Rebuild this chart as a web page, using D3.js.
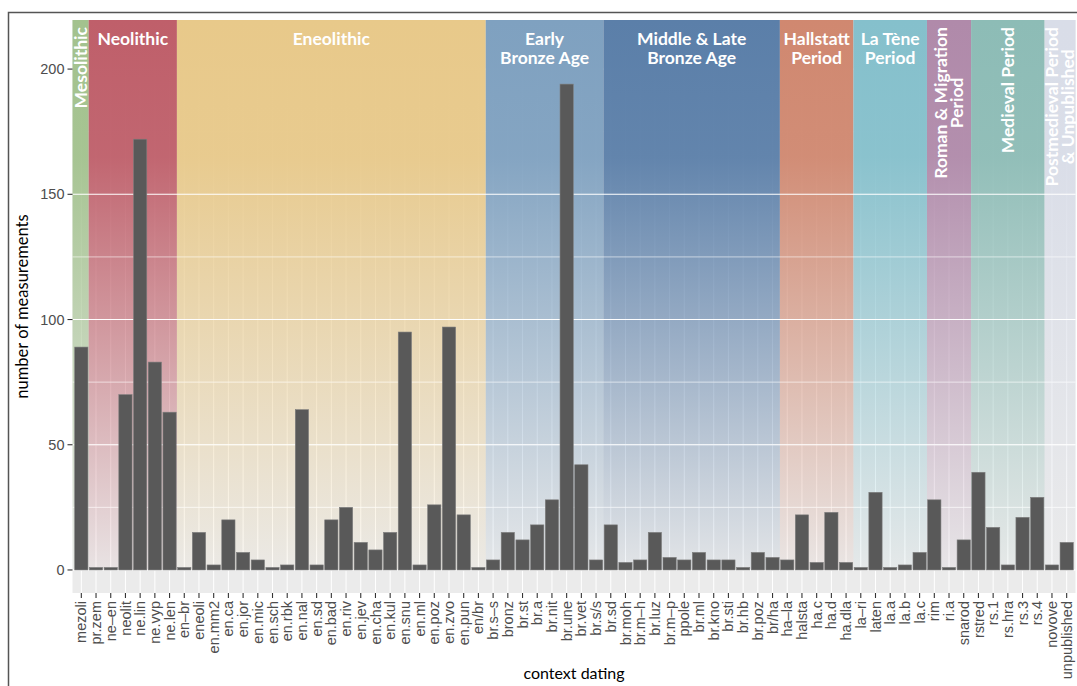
<!DOCTYPE html>
<html>
<head>
<meta charset="utf-8">
<script src="https://cdn.jsdelivr.net/npm/d3@7"></script>
<style>
  body { margin: 0; background: #fff; }
  svg { display: block; }
</style>
</head>
<body>
<div id="chart"></div>
<script>
const categories = [
  'mezoli', 'pr.zem', 'ne–en', 'neolit', 'ne.lin', 'ne.vyp', 'ne.len',
  'en–br', 'eneoli', 'en.mm2', 'en.ca', 'en.jor', 'en.mic', 'en.sch', 'en.rbk',
  'en.nal', 'en.sd', 'en.bad', 'en.riv', 'en.jev', 'en.cha', 'en.kul', 'en.snu',
  'en.ml', 'en.poz', 'en.zvo', 'en.pun', 'en/br',
  'br.s–s', 'bronz', 'br.st', 'br.a', 'br.nit', 'br.une', 'br.vet', 'br.s/s',
  'br.sd', 'br.moh', 'br.m–h', 'br.luz', 'br.m–p', 'ppole', 'br.ml', 'br.kno',
  'br.sti', 'br.hb', 'br.poz', 'br/ha',
  'ha–la', 'halsta', 'ha.c', 'ha.d', 'ha.dla',
  'la–ri', 'laten', 'la.a', 'la.b', 'la.c',
  'rim', 'ri.a', 'snarod',
  'rstred', 'rs.1', 'rs.hra', 'rs.3', 'rs.4',
  'novove', 'unpublished'
];

const counts = [
  89, 1, 1, 70, 172, 83, 63,
  1, 15, 2, 20, 7, 4, 1, 2,
  64, 2, 20, 25, 11, 8, 15, 95,
  2, 26, 97, 22, 1,
  4, 15, 12, 18, 28, 194, 42, 4,
  18, 3, 4, 15, 5, 4, 7, 4,
  4, 1, 7, 5,
  4, 22, 3, 23, 3,
  1, 31, 1, 2, 7,
  28, 1, 12,
  39, 17, 2, 21, 29,
  2, 11
];

const periodLabels = [
  'Mesolithic', 'Neolithic', 'Eneolithic', 'Early\nBronze Age',
  'Middle & Late\nBronze Age', 'Hallstatt\nPeriod', 'La Tène\nPeriod',
  'Roman & Migration\nPeriod', 'Medieval Period', 'Postmedieval Period\n& Unpublished'
];
const periodFirst = ['mezoli', 'pr.zem', 'en–br', 'br.s–s', 'br.sd', 'ha–la', 'la–ri', 'rim', 'rstred', 'novove'];
const periodLast = ['mezoli', 'ne.len', 'en/br', 'br.s/s', 'br/ha', 'ha.dla', 'la.c', 'snarod', 'rs.4', 'unpublished'];
const periodColors = ['#a3c28e', '#bf5f6a', '#e8c98a', '#7fa1c0', '#5b7fa9', '#d08870', '#85c0cc', '#b08aaa', '#8dbcb6', '#d9dde8'];
const periodVertical = [true, false, false, false, false, false, false, true, true, true];

const yMajor = [0, 50, 100, 150, 200];
const yMinor = [25, 75, 125, 175];

const W = 1077, H = 686;
const pLeft = 72.5, pRight = 1075.5, pTop = 20, pBottom = 593;

const svg = d3.select('#chart').append('svg')
  .attr('width', W)
  .attr('height', H);

const x = d3.scalePoint()
  .domain(categories)
  .range([pLeft, pRight])
  .padding(0.6);
const step = x.step();
const bw = step * 0.9;

const y = d3.scaleLinear()
  .domain([-9.2, 219.6])
  .range([pBottom, pTop]);

// outer frame
svg.append('rect')
  .attr('x', 8.5).attr('y', 12.5)
  .attr('width', W + 20).attr('height', H + 20)
  .style('fill', 'none')
  .style('stroke', '#555')
  .style('stroke-width', 1.5);

// panel background
svg.append('rect')
  .attr('x', pLeft).attr('y', pTop)
  .attr('width', pRight - pLeft).attr('height', pBottom - pTop)
  .style('fill', '#ebebeb');

const grid = svg.append('g');
grid.selectAll('.vgrid')
  .data(categories)
  .enter().append('line')
  .attr('x1', d => x(d)).attr('x2', d => x(d))
  .attr('y1', pTop).attr('y2', pBottom)
  .style('stroke', '#fff').style('stroke-width', 1);
grid.selectAll('.minor')
  .data(yMinor)
  .enter().append('line')
  .attr('x1', pLeft).attr('x2', pRight)
  .attr('y1', d => y(d)).attr('y2', d => y(d))
  .style('stroke', '#fff').style('stroke-width', 0.55);
grid.selectAll('.major')
  .data(yMajor)
  .enter().append('line')
  .attr('x1', pLeft).attr('x2', pRight)
  .attr('y1', d => y(d)).attr('y2', d => y(d))
  .style('stroke', '#fff').style('stroke-width', 1.1);

// period backgrounds, fading towards zero
const defs = svg.append('defs');
const periods = periodLabels.map((label, i) => ({
  label,
  color: periodColors[i],
  vertical: periodVertical[i],
  x0: i === 0 ? pLeft : x(periodFirst[i]) - step / 2,
  x1: i === periodLabels.length - 1 ? pRight : x(periodLast[i]) + step / 2,
}));

const fadeTop = (y(165) - pTop) / (y(0) - pTop);
const fadeMid = (y(80) - pTop) / (y(0) - pTop);
periods.forEach((p, i) => {
  const g = defs.append('linearGradient')
    .attr('id', 'fade' + i)
    .attr('gradientUnits', 'userSpaceOnUse')
    .attr('x1', 0).attr('x2', 0)
    .attr('y1', pTop).attr('y2', y(0));
  g.append('stop').attr('offset', 0).attr('stop-color', p.color).attr('stop-opacity', 1);
  g.append('stop').attr('offset', fadeTop).attr('stop-color', p.color).attr('stop-opacity', 0.95);
  g.append('stop').attr('offset', fadeMid).attr('stop-color', p.color).attr('stop-opacity', 0.5);
  g.append('stop').attr('offset', 1).attr('stop-color', p.color).attr('stop-opacity', 0.06);
});

svg.append('g').selectAll('rect')
  .data(periods)
  .enter().append('rect')
  .attr('x', d => d.x0)
  .attr('y', pTop)
  .attr('width', d => d.x1 - d.x0)
  .attr('height', y(0) - pTop)
  .style('fill', (d, i) => `url(#fade${i})`);

// horizontal lines show through the faded part
const over = svg.append('g');
over.selectAll('.minor')
  .data(yMinor.filter(v => v <= 150))
  .enter().append('line')
  .attr('x1', pLeft).attr('x2', pRight)
  .attr('y1', d => y(d)).attr('y2', d => y(d))
  .style('stroke', '#fff').style('stroke-width', 0.55);
over.selectAll('.major')
  .data(yMajor.filter(v => v <= 150))
  .enter().append('line')
  .attr('x1', pLeft).attr('x2', pRight)
  .attr('y1', d => y(d)).attr('y2', d => y(d))
  .style('stroke', '#fff').style('stroke-width', 1.1);

// bars
svg.append('g').selectAll('rect')
  .data(categories)
  .enter().append('rect')
  .attr('x', d => x(d) - bw / 2)
  .attr('y', (d, i) => y(counts[i]))
  .attr('width', bw)
  .attr('height', (d, i) => y(0) - y(counts[i]))
  .style('fill', '#595959')
  .style('stroke', '#7d7d7d')
  .style('stroke-width', 0.6);

// period labels
const labelFont = 'Lato, "Open Sans", sans-serif';
periods.forEach(p => {
  const lines = p.label.split('\n');
  const cx = (p.x0 + p.x1) / 2;
  if (!p.vertical) {
    const t = svg.append('text')
      .attr('text-anchor', 'middle')
      .style('font-family', labelFont)
      .style('font-weight', 700)
      .style('font-size', '17.5px')
      .style('fill', '#fff');
    lines.forEach((s, k) => {
      t.append('tspan').attr('x', cx).attr('y', 45 + k * 18.5).text(s);
    });
  } else {
    const g = svg.append('g')
      .attr('transform', `translate(${cx - 0.5}, 27) rotate(-90)`);
    const lh = 16;
    const texts = lines.map((s, k) => g.append('text')
      .attr('dominant-baseline', 'central')
      .attr('text-anchor', 'middle')
      .attr('y', (k - (lines.length - 1) / 2) * lh)
      .style('font-family', labelFont)
      .style('font-weight', 700)
      .style('font-size', '17.5px')
      .style('fill', '#fff')
      .text(s));
    const wmax = d3.max(texts, t => t.node().getComputedTextLength());
    texts.forEach(t => t.attr('x', -wmax / 2));
  }
});

// axes
const tickFont = '"Liberation Sans", Arial, sans-serif';
const yAxis = svg.append('g');
yAxis.selectAll('line')
  .data(yMajor)
  .enter().append('line')
  .attr('x1', pLeft - 5).attr('x2', pLeft)
  .attr('y1', d => y(d)).attr('y2', d => y(d))
  .style('stroke', '#333').style('stroke-width', 1.1);
yAxis.selectAll('text')
  .data(yMajor)
  .enter().append('text')
  .attr('x', pLeft - 8)
  .attr('y', d => y(d))
  .attr('dy', '0.35em')
  .attr('text-anchor', 'end')
  .style('font-family', tickFont)
  .style('font-size', '14.5px')
  .style('fill', '#4d4d4d')
  .text(d => d);

const xAxis = svg.append('g');
xAxis.selectAll('line')
  .data(categories)
  .enter().append('line')
  .attr('x1', d => x(d)).attr('x2', d => x(d))
  .attr('y1', pBottom).attr('y2', pBottom + 5)
  .style('stroke', '#333').style('stroke-width', 1.1);
xAxis.selectAll('text')
  .data(categories)
  .enter().append('text')
  .attr('transform', d => `translate(${x(d)}, ${pBottom + 8}) rotate(-90)`)
  .attr('dy', '0.35em')
  .attr('text-anchor', 'end')
  .style('font-family', tickFont)
  .style('font-size', '14.5px')
  .style('fill', '#4d4d4d')
  .text(d => d);

svg.append('text')
  .attr('x', (pLeft + pRight) / 2)
  .attr('y', 679)
  .attr('text-anchor', 'middle')
  .style('font-family', labelFont)
  .style('font-size', '16px')
  .style('fill', '#000')
  .text('context dating');

svg.append('text')
  .attr('transform', `translate(22, ${(pTop + pBottom) / 2}) rotate(-90)`)
  .attr('text-anchor', 'middle')
  .attr('dy', '0.35em')
  .style('font-family', labelFont)
  .style('font-size', '16.5px')
  .style('fill', '#000')
  .text('number of measurements');
</script>
</body>
</html>
